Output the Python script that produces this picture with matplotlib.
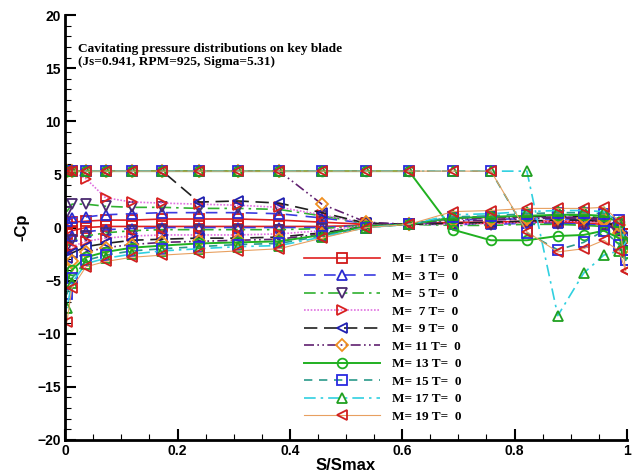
import numpy as np
import matplotlib.pyplot as plt
from matplotlib.ticker import MultipleLocator

# chordwise stations (S/Smax), same for back and face
s = [0.003, 0.012, 0.037, 0.072, 0.119, 0.173, 0.238, 0.308, 0.381, 0.457,
     0.536, 0.612, 0.690, 0.758, 0.822, 0.877, 0.923, 0.959, 0.986, 0.998]

sig = 5.31  # cavity pressure level (-Cp = sigma)

# -Cp on the back side, per strip M
back_m1 = [0.3, 0.5, 0.6, 0.7, 0.7, 0.8, 0.8, 0.8, 0.7, 0.5, 0.3, 0.3, 0.5, 0.5, 0.6, 0.6, 0.6, 0.5, 0.2, -0.6]
back_m3 = [0.6, 0.9, 1.0, 1.2, 1.3, 1.4, 1.4, 1.4, 1.3, 0.9, 0.4, 0.3, 0.7, 0.8, 0.8, 0.8, 0.8, 0.6, 0.1, -0.8]
back_m5 = [1.5, 2.2, 2.2, 2.0, 1.9, 1.9, 1.8, 1.8, 1.7, 1.1, 0.4, 0.3, 0.9, 1.0, 1.1, 1.1, 1.1, 0.9, 0.3, -1.0]
back_m7 = [sig, sig, 4.6, 2.8, 2.4, 2.3, 2.2, 2.1, 1.9, 1.2, 0.4, 0.3, 0.8, 0.9, 1.0, 1.0, 1.0, 0.8, 0.0, -1.2]
back_m9 = [sig, sig, sig, sig, sig, sig, 2.4, 2.5, 2.3, 1.4, 0.4, 0.3, 0.9, 1.0, 1.0, 1.1, 1.0, 0.8, -0.2, -1.5]
back_m11 = [sig, sig, sig, sig, sig, sig, sig, sig, sig, 2.2, 0.5, 0.3, 0.8, 0.9, 0.9, 1.0, 0.9, 0.6, -0.5, -1.8]
back_m13 = [sig, sig, sig, sig, sig, sig, sig, sig, sig, sig, sig, sig, -0.2, -1.2, -1.2, -0.8, -0.7, -0.3, -1.0, -2.4]
back_m15 = [sig, sig, sig, sig, sig, sig, sig, sig, sig, sig, sig, sig, sig, sig, -0.5, -2.1, -1.4, -0.3, -1.6, -3.1]
back_m17 = [sig, sig, sig, sig, sig, sig, sig, sig, sig, sig, sig, sig, sig, sig, sig, -8.3, -4.3, -2.6, -2.2, -1.4]
back_m19 = [sig, sig, sig, sig, sig, sig, sig, sig, sig, sig, sig, sig, sig, sig, -0.4, -2.3, -2.0, -1.2, -2.2, -4.1]

# -Cp on the face side
face_m1 = [-0.6, -0.3, 0.0, 0.1, 0.1, 0.1, 0.1, 0.1, 0.1, 0.1, 0.2, 0.3, 0.4, 0.4, 0.5, 0.5, 0.4, 0.3, 0.0, -0.6]
face_m3 = [-1.2, -0.8, -0.4, -0.2, -0.1, 0.0, 0.0, 0.0, 0.0, 0.0, 0.2, 0.3, 0.3, 0.3, 0.4, 0.4, 0.3, 0.2, -0.2, -0.8]
face_m5 = [-1.8, -1.2, -0.8, -0.5, -0.3, -0.2, -0.2, -0.2, -0.2, -0.1, 0.2, 0.3, 0.2, 0.2, 0.3, 0.3, 0.2, 0.1, -0.3, -1.0]
face_m7 = [-2.3, -1.8, -1.3, -1.0, -0.8, -0.7, -0.7, -0.7, -0.6, -0.3, 0.2, 0.3, 0.3, 0.4, 0.5, 0.6, 0.6, 0.5, 0.0, -1.2]
face_m9 = [-2.9, -2.4, -1.8, -1.5, -1.2, -1.1, -1.0, -1.0, -0.9, -0.5, 0.1, 0.3, 0.4, 0.5, 0.6, 0.7, 0.7, 0.6, 0.0, -1.5]
face_m11 = [-4.0, -3.2, -2.3, -1.9, -1.6, -1.4, -1.3, -1.2, -1.1, -0.6, 0.1, 0.3, 0.6, 0.7, 0.8, 0.9, 0.9, 0.8, 0.2, -1.8]
face_m13 = [-5.1, -4.0, -2.8, -2.3, -1.9, -1.7, -1.5, -1.4, -1.3, -0.7, 0.1, 0.3, 0.9, 1.0, 1.1, 1.2, 1.2, 1.1, 0.5, -2.4]
face_m15 = [-6.3, -4.8, -3.1, -2.6, -2.2, -2.0, -1.8, -1.6, -1.5, -0.8, 0.0, 0.3, 1.0, 1.1, 1.3, 1.4, 1.4, 1.3, 0.7, -3.1]
face_m17 = [-7.6, -5.2, -3.4, -2.9, -2.5, -2.2, -2.0, -1.8, -1.7, -0.9, 0.0, 0.3, 1.2, 1.3, 1.5, 1.6, 1.6, 1.5, 0.5, -1.4]
face_m19 = [-8.9, -5.7, -3.7, -3.2, -2.8, -2.6, -2.4, -2.2, -2.0, -1.0, 0.0, 0.3, 1.5, 1.6, 1.8, 1.8, 1.8, 1.9, 0.6, -4.1]

strips = [1, 3, 5, 7, 9, 11, 13, 15, 17, 19]
backs = [back_m1, back_m3, back_m5, back_m7, back_m9, back_m11, back_m13, back_m15, back_m17, back_m19]
faces = [face_m1, face_m3, face_m5, face_m7, face_m9, face_m11, face_m13, face_m15, face_m17, face_m19]

xticks = [0, 0.2, 0.4, 0.6, 0.8, 1]
xtick_labels = ["0", "0.2", "0.4", "0.6", "0.8", "1"]

# (line colour, linestyle, lw, marker, marker edge colour)
styles = [
    ("#e02020", "-", 1.2, "s", "#d01818"),
    ("#3a3ae0", (0, (7, 5)), 1.2, "^", "#2a2ad0"),
    ("#30b030", (0, (7, 3, 1.5, 3)), 1.2, "v", "#4a2a70"),
    ("#e070e0", (0, (1, 1)), 1.2, ">", "#d82020"),
    ("#202020", (0, (8, 4)), 1.2, "<", "#2020b0"),
    ("#602070", (0, (6, 2, 1, 2, 1, 2)), 1.2, "D", "#f09020"),
    ("#20b020", "-", 1.4, "o", "#20b020"),
    ("#2a9a8a", (0, (5, 4)), 1.2, "s", "#2a2ae0"),
    ("#30d0e0", (0, (7, 3, 1.5, 3)), 1.2, "^", "#20a020"),
    ("#e8a060", "-", 0.8, "<", "#d02020"),
]

fig = plt.figure(figsize=(6.39, 4.74), dpi=100)
ax = fig.add_axes([0.102, 0.072, 0.879, 0.896])

for m, b, f, (c, ls, lw, mk, mc) in zip(strips, backs, faces, styles):
    x = s + s[::-1]
    y = b + f[::-1]
    ms = 6 if mk == "D" else 7
    ax.plot(x, y, color=c, linestyle=ls, linewidth=lw, marker=mk, markersize=ms,
            markerfacecolor="none", markeredgecolor=mc, markeredgewidth=1.3,
            label="M=%3d T=%3d" % (m, 0))

ax.set_xlim(0, 1)
ax.set_ylim(-20, 20)
ax.spines["top"].set_visible(False)
ax.spines["right"].set_visible(False)
ax.spines["left"].set_linewidth(2)
ax.spines["bottom"].set_linewidth(2)
ax.set_xticks(xticks)
ax.set_xticklabels(xtick_labels)
ax.xaxis.set_minor_locator(MultipleLocator(0.05))
ax.yaxis.set_major_locator(MultipleLocator(5))
ax.yaxis.set_minor_locator(MultipleLocator(1))
ax.tick_params(which="major", direction="in", length=8, width=1.5, labelsize=10, pad=3)
ax.tick_params(which="minor", direction="in", length=4, width=0.8)
for lab in ax.get_xticklabels() + ax.get_yticklabels():
    lab.set_fontweight("bold")
    lab.set_family("Liberation Sans")

ax.set_xlabel("S/Smax", fontsize=12, fontweight="bold", family="Liberation Sans", labelpad=0)
ax.set_ylabel("-Cp", fontsize=12, fontweight="bold", family="Liberation Sans", labelpad=6)

ax.text(0.022, 16.2, "Cavitating pressure distributions on key blade\n(Js=0.941, RPM=925, Sigma=5.31)",
        fontsize=9.6, fontweight="bold", family="Liberation Serif", va="center", ha="left",
        linespacing=1.05)

leg = ax.legend(loc="upper left", bbox_to_anchor=(0.425, 0.44), frameon=False,
                prop={"family": "Liberation Serif", "weight": "bold", "size": 9.5},
                handlelength=5.8, labelspacing=0.4, borderpad=0, borderaxespad=0,
                handletextpad=0.9)

fig.savefig("out.png", dpi=100)
